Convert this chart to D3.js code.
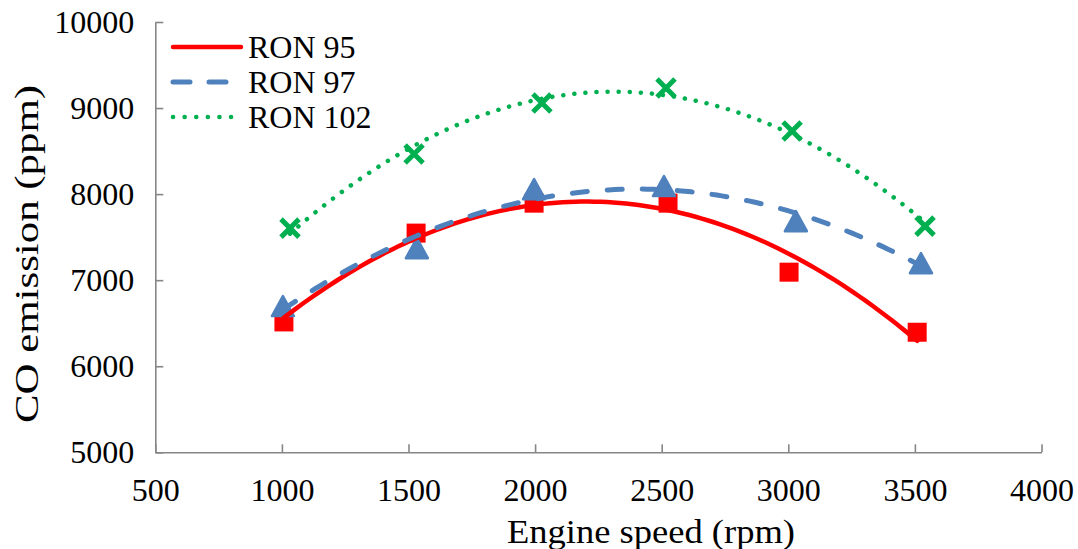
<!DOCTYPE html>
<html>
<head>
<meta charset="utf-8">
<script src="https://cdn.jsdelivr.net/npm/d3@7"></script>
<style>
  html, body { margin: 0; padding: 0; background: #fff; }
  svg { display: block; }
</style>
</head>
<body>
<svg id="chart" width="1078" height="549"></svg>
<script>
// ---- data ----
const seriesNames = ["RON 95", "RON 97", "RON 102"];
const ron95Speed = [1008, 1530, 1996, 2525, 3003, 3509];
const ron95CO    = [6515, 7547, 7895, 7895, 7093, 6395];
const ron97Speed = [1004, 1533, 1996, 2509, 3030, 3524];
const ron97CO    = [6700, 7372, 8058, 8093, 7686, 7198];
const ron102Speed = [1032, 1522, 2027, 2517, 3015, 3540];
const ron102CO    = [7605, 8465, 9058, 9233, 8733, 7628];
const xTicks = [500, 1000, 1500, 2000, 2500, 3000, 3500, 4000];
const yTicks = [5000, 6000, 7000, 8000, 9000, 10000];
const xTitle = "Engine speed  (rpm)";
const yTitle = "CO emission (ppm)";

const FONT = '"Liberation Serif", "Times New Roman", serif';
const colors = ["#FF0000", "#4F81BD", "#00B050"];
const series = [
  { name: seriesNames[0], xs: ron95Speed, ys: ron95CO, color: colors[0], marker: "square", dash: null, legendDash: null, width: 4.5 },
  { name: seriesNames[1], xs: ron97Speed, ys: ron97CO, color: colors[1], marker: "triangle", dash: "15,20", legendDash: "17,19", width: 5 },
  { name: seriesNames[2], xs: ron102Speed, ys: ron102CO, color: colors[2], marker: "cross", dash: "0.1,11", legendDash: "0.1,11.5", width: 4.5 }
];

const svg = d3.select("#chart");
const x = d3.scaleLinear().domain([500, 4000]).range([155.3, 1041.5]);
const y = d3.scaleLinear().domain([5000, 10000]).range([452.3, 22]);

// ---- polynomial (order 2) trendline, least squares ----
function quadFit(xs, ys) {
  const n = xs.length;
  const mx = d3.mean(xs);
  let S = [0,0,0,0,0], T = [0,0,0];
  for (let i = 0; i < n; i++) {
    const u = (xs[i] - mx) / 1000;
    let p = 1;
    for (let k = 0; k < 5; k++) { S[k] += p; p *= u; }
    T[0] += ys[i]; T[1] += ys[i] * u; T[2] += ys[i] * u * u;
  }
  const A = [[S[0],S[1],S[2],T[0]],[S[1],S[2],S[3],T[1]],[S[2],S[3],S[4],T[2]]];
  for (let c = 0; c < 3; c++) {
    for (let r = c + 1; r < 3; r++) {
      const f = A[r][c] / A[c][c];
      for (let k = c; k < 4; k++) A[r][k] -= f * A[c][k];
    }
  }
  const b = [0,0,0];
  for (let r = 2; r >= 0; r--) {
    let s = A[r][3];
    for (let k = r + 1; k < 3; k++) s -= A[r][k] * b[k];
    b[r] = s / A[r][r];
  }
  return v => { const u = (v - mx) / 1000; return b[0] + b[1]*u + b[2]*u*u; };
}

// ---- axes ----
const axisColor = "#868686";
const gy = svg.append("g").attr("transform", `translate(${x(500)},0)`)
  .call(d3.axisLeft(y).tickValues(yTicks).tickFormat(d3.format("d")).tickSizeInner(-8).tickSizeOuter(0).tickPadding(21));
const gx = svg.append("g").attr("transform", `translate(0,${y(5000)})`)
  .call(d3.axisBottom(x).tickValues(xTicks).tickFormat(d3.format("d")).tickSizeInner(-8).tickSizeOuter(0).tickPadding(26));
[gx, gy].forEach(g => {
  g.attr("font-family", null).attr("font-size", null);
  g.select(".domain").attr("stroke", axisColor).attr("stroke-width", 1.6);
  g.selectAll(".tick line").attr("stroke", axisColor).attr("stroke-width", 1.6);
  g.selectAll(".tick text").style("font-size", "32px").style("font-family", FONT).attr("fill", "#000");
});

// ---- axis titles ----
svg.append("text").attr("x", 651).attr("y", 543).attr("text-anchor", "middle")
  .style("font-family", FONT).style("font-size", "33px")
  .attr("textLength", 288).attr("lengthAdjust", "spacingAndGlyphs").text(xTitle);
svg.append("text").attr("transform", "translate(38,254) rotate(-90)").attr("text-anchor", "middle")
  .style("font-family", FONT).style("font-size", "33px")
  .attr("textLength", 338).attr("lengthAdjust", "spacingAndGlyphs").text(yTitle);

// ---- markers ----
function drawMarker(g, s, px, py) {
  if (s.marker === "square") {
    g.append("rect").attr("x", px - 9.5).attr("y", py - 9.5).attr("width", 19).attr("height", 19).attr("fill", s.color);
  } else if (s.marker === "triangle") {
    g.append("path").attr("d", `M${px},${py-10} L${px+11},${py+10} L${px-11},${py+10} Z`)
      .attr("fill", s.color).attr("stroke", s.color).attr("stroke-width", 2.5).attr("stroke-linejoin", "round");
  } else {
    g.append("path").attr("d", `M${px-9},${py-9} L${px+9},${py+9} M${px+9},${py-9} L${px-9},${py+9}`)
      .attr("stroke", s.color).attr("stroke-width", 5).attr("fill", "none");
  }
}
const gm = svg.append("g");
series.forEach(s => s.xs.forEach((v, i) => drawMarker(gm, s, x(v), y(s.ys[i]))));

// ---- trendlines ----
const line = d3.line().x(d => x(d[0])).y(d => y(d[1])).curve(d3.curveLinear);
series.forEach(s => {
  const f = quadFit(s.xs, s.ys);
  const x0 = d3.min(s.xs), x1 = d3.max(s.xs);
  const pts = d3.range(0, 101).map(k => { const v = x0 + (x1 - x0) * k / 100; return [v, f(v)]; });
  const p = svg.append("path").datum(pts).attr("d", line).attr("fill", "none")
    .attr("stroke", s.color).attr("stroke-width", s.width).attr("stroke-linecap", "round");
  if (s.dash) p.attr("stroke-dasharray", s.dash);
});

// ---- legend ----
const lg = svg.append("g");
series.forEach((s, i) => {
  const ly = 47 + i * 35;
  const l = lg.append("line").attr("x1", 173).attr("x2", 241).attr("y1", ly).attr("y2", ly)
    .attr("stroke", s.color).attr("stroke-width", s.width).attr("stroke-linecap", "round");
  if (s.legendDash) l.attr("stroke-dasharray", s.legendDash);
  lg.append("text").attr("x", 248).attr("y", ly + 11)
    .style("font-family", FONT).style("font-size", "32px").attr("fill", "#000").text(s.name);
});
</script>
</body>
</html>
